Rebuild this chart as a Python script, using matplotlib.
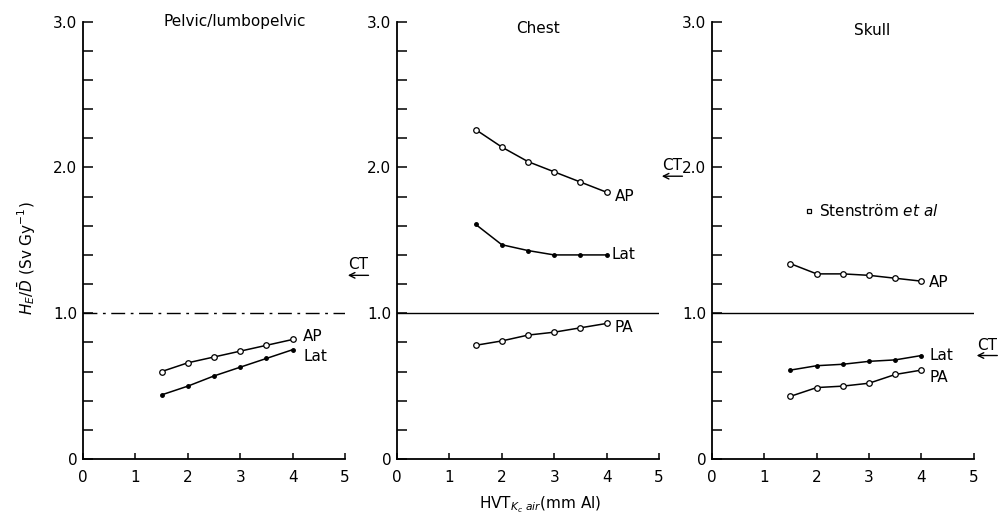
import matplotlib.pyplot as plt
from matplotlib.ticker import MultipleLocator

hvt = [1.5, 2.0, 2.5, 3.0, 3.5, 4.0]

# Pelvic/lumbopelvic
pelvic_ap = [0.60, 0.66, 0.70, 0.74, 0.78, 0.82]
pelvic_lat = [0.44, 0.50, 0.57, 0.63, 0.69, 0.75]

# Chest
chest_ap = [2.26, 2.14, 2.04, 1.97, 1.90, 1.83]
chest_lat = [1.61, 1.47, 1.43, 1.40, 1.40, 1.40]
chest_pa = [0.78, 0.81, 0.85, 0.87, 0.90, 0.93]

# Skull
skull_ap = [1.34, 1.27, 1.27, 1.26, 1.24, 1.22]
skull_lat = [0.61, 0.64, 0.65, 0.67, 0.68, 0.71]
skull_pa = [0.43, 0.49, 0.50, 0.52, 0.58, 0.61]

titles = ["Pelvic/lumbopelvic", "Chest", "Skull"]
title_x = [2.9, 2.7, 3.05]
title_y = [3.0, 2.95, 2.94]
ct_levels = [1.26, 1.94, 0.71]

fig = plt.figure(figsize=(10.04, 5.29), dpi=100)
lefts = [0.0827, 0.3954, 0.709]
axes = [fig.add_axes([l, 0.1323, 0.261, 0.8267]) for l in lefts]

open_kw = dict(color="black", lw=1.1, marker="o", ms=4, mfc="white", mec="black", mew=0.9)
dot_kw = dict(color="black", lw=1.1, marker="o", ms=2.5, mfc="black", mec="black")

fs = 11
for i, ax in enumerate(axes):
    ax.set_xlim(0, 5)
    ax.set_ylim(0, 3.0)
    ax.spines["top"].set_visible(False)
    ax.spines["right"].set_visible(False)
    ax.spines["left"].set_linewidth(1.3)
    ax.spines["bottom"].set_linewidth(1.3)
    ax.set_xticks([0, 1, 2, 3, 4, 5])
    ax.set_yticks([0, 1, 2, 3])
    ax.set_yticklabels(["0", "1.0", "2.0", "3.0"])
    ax.yaxis.set_minor_locator(MultipleLocator(0.2))
    ax.tick_params(axis="y", which="both", direction="in", length=7, width=1.1, labelsize=fs, pad=4)
    ax.tick_params(axis="x", direction="in", length=4, width=1.1, labelsize=fs, pad=8)
    ax.text(title_x[i], title_y[i], titles[i], fontsize=fs, ha="center", va="center")
    ls = (0, (10, 4, 2, 4)) if i == 0 else "-"
    ax.axhline(1.0, color="black", lw=1.0, ls=ls)
    # CT arrow with label
    y_ct = ct_levels[i]
    ax.annotate("", xy=(5.0, y_ct), xytext=(5.5, y_ct),
                arrowprops=dict(arrowstyle="->", lw=1.0, color="black"),
                annotation_clip=False)
    ax.text(5.25, y_ct + 0.02, "CT", fontsize=fs, ha="center", va="bottom", clip_on=False)

ax1, ax2, ax3 = axes
ax1.plot(hvt, pelvic_ap, **open_kw)
ax1.plot(hvt, pelvic_lat, **dot_kw)
ax1.text(4.2, pelvic_ap[-1] + 0.02, "AP", fontsize=fs, va="center")
ax1.text(4.2, pelvic_lat[-1] - 0.05, "Lat", fontsize=fs, va="center")

ax2.plot(hvt, chest_ap, **open_kw)
ax2.plot(hvt, chest_lat, **dot_kw)
ax2.plot(hvt, chest_pa, **open_kw)
ax2.text(4.15, chest_ap[-1] - 0.03, "AP", fontsize=fs, va="center")
ax2.text(4.1, chest_lat[-1], "Lat", fontsize=fs, va="center")
ax2.text(4.15, chest_pa[-1] - 0.03, "PA", fontsize=fs, va="center")

ax3.plot(hvt, skull_ap, **open_kw)
ax3.plot(hvt, skull_lat, **dot_kw)
ax3.plot(hvt, skull_pa, **open_kw)
ax3.text(4.15, skull_ap[-1] - 0.01, "AP", fontsize=fs, va="center")
ax3.text(4.15, skull_lat[-1], "Lat", fontsize=fs, va="center")
ax3.text(4.15, skull_pa[-1] - 0.05, "PA", fontsize=fs, va="center")
ax3.plot([1.85], [1.70], marker="s", ms=3.5, mfc="white", mec="black", mew=0.9, ls="none")
ax3.text(2.05, 1.70, r"Stenström $et\ al$", fontsize=fs, va="center")

ax1.set_ylabel(r"$H_E/\bar{D}$ (Sv Gy$^{-1}$)", fontsize=fs)
ax1.yaxis.set_label_coords(-0.17, 0.46)

fig.text(0.538, 0.045, r"HVT$_{K_c\ air}$(mm Al)", fontsize=fs, ha="center", va="center")

fig.savefig("out.png", dpi=100)
